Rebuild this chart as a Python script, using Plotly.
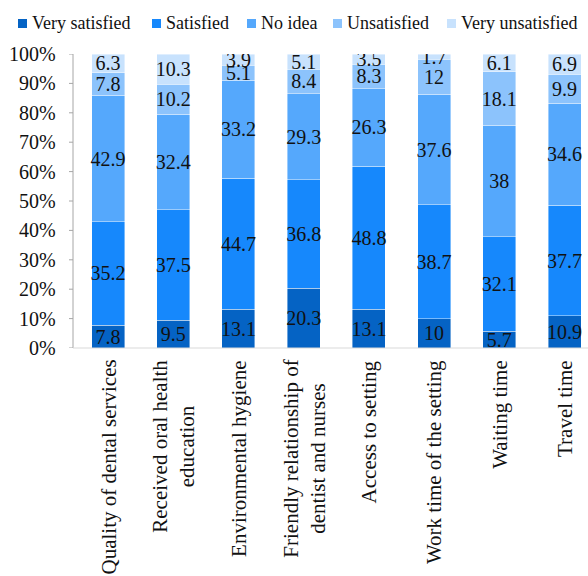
import plotly.graph_objects as go

categories = [
    "Quality of dental services",
    "Received oral health<br>education",
    "Environmental hygiene",
    "Friendly relationship of<br>dentist and nurses",
    "Access to setting",
    "Work time of the setting",
    "Waiting time",
    "Travel time",
]
series_names = ["Very satisfied", "Satisfied", "No idea", "Unsatisfied", "Very unsatisfied"]
very_satisfied = [7.8, 9.5, 13.1, 20.3, 13.1, 10, 5.7, 10.9]
satisfied = [35.2, 37.5, 44.7, 36.8, 48.8, 38.7, 32.1, 37.7]
no_idea = [42.9, 32.4, 33.2, 29.3, 26.3, 37.6, 38, 34.6]
unsatisfied = [7.8, 10.2, 5.1, 8.4, 8.3, 12, 18.1, 9.9]
very_unsatisfied = [6.3, 10.3, 3.9, 5.1, 3.5, 1.7, 6.1, 6.9]
y_ticks = [0, 10, 20, 30, 40, 50, 60, 70, 80, 90, 100]
y_tick_text = [f"{v}%" for v in y_ticks]

series = [very_satisfied, satisfied, no_idea, unsatisfied, very_unsatisfied]
colors = ["#0563C4", "#1688FC", "#55A8FC", "#8CC3FC", "#C8E2FD"]

FONT = "Liberation Serif"
TXT = "#111111"
W, H = 588, 576
ML, MR, MT, MB = 73, 0, 54, 228
PW, PH = W - ML - MR, H - MT - MB


def px_x(px):
    return (px - ML) / PW


def px_y(py):
    return (H - MB - py) / PH


fig = go.Figure()
for name, vals, col in zip(series_names, series, colors):
    fig.add_trace(go.Bar(
        name=name, x=categories, y=vals,
        marker=dict(color=col, line=dict(color="rgba(255,255,255,0.6)", width=0.7)),
        text=[str(v) for v in vals], textposition="inside", insidetextanchor="middle",
        textangle=0, constraintext="none",
        textfont=dict(family=FONT, size=20, color=TXT),
        showlegend=False,
    ))

annotations = []
shapes = []

# category labels
for c in categories:
    annotations.append(dict(
        x=c, y=0, xref="x", yref="paper", text=c, textangle=-90,
        xanchor="center", yanchor="top", align="center", yshift=-12,
        showarrow=False, borderpad=0, borderwidth=0,
        font=dict(family=FONT, size=21, color=TXT)))

# y tick labels and tick marks
for v, t in zip(y_ticks, y_tick_text):
    annotations.append(dict(
        x=0, y=v, xref="paper", yref="y", text=t, xanchor="right", yanchor="middle",
        xshift=-17, showarrow=False, borderpad=0, borderwidth=0,
        font=dict(family=FONT, size=20, color=TXT)))
    shapes.append(dict(
        type="line", xref="paper", xsizemode="pixel", xanchor=0, x0=-4, x1=0,
        yref="y", y0=v, y1=v, line=dict(color="#a6a6a6", width=1)))

# axis lines
shapes.append(dict(type="line", xref="paper", yref="paper", x0=0, x1=0, y0=0, y1=1,
                   line=dict(color="#a6a6a6", width=1)))
shapes.append(dict(type="line", xref="paper", yref="paper", x0=0, x1=1, y0=0, y1=0,
                   line=dict(color="#d9d9d9", width=1)))

# legend (top row)
legend_text_px = [32, 166, 261, 347, 461]
for name, col, tx in zip(series_names, colors, legend_text_px):
    shapes.append(dict(
        type="rect", xref="paper", yref="paper",
        x0=px_x(tx - 14), x1=px_x(tx - 5), y0=px_y(28), y1=px_y(19),
        fillcolor=col, line=dict(width=0)))
    annotations.append(dict(
        x=px_x(tx), y=px_y(23), xref="paper", yref="paper", text=name,
        xanchor="left", yanchor="middle", showarrow=False, borderpad=0, borderwidth=0,
        font=dict(family=FONT, size=18, color=TXT)))

fig.update_layout(
    width=W, height=H,
    margin=dict(l=ML, r=MR, t=MT, b=MB, autoexpand=False),
    barmode="stack", barnorm="percent", bargap=0.494,
    plot_bgcolor="white", paper_bgcolor="white",
    font=dict(family=FONT, size=20, color=TXT),
    showlegend=False,
    annotations=annotations,
    shapes=shapes,
)
fig.update_xaxes(type="category", range=[-0.537, 7.36], showticklabels=False,
                 showline=False, ticks="", showgrid=False, zeroline=False)
fig.update_yaxes(range=[0, 100], showticklabels=False, showline=False, ticks="",
                 showgrid=False, zeroline=False)

fig.write_html("out.html")
